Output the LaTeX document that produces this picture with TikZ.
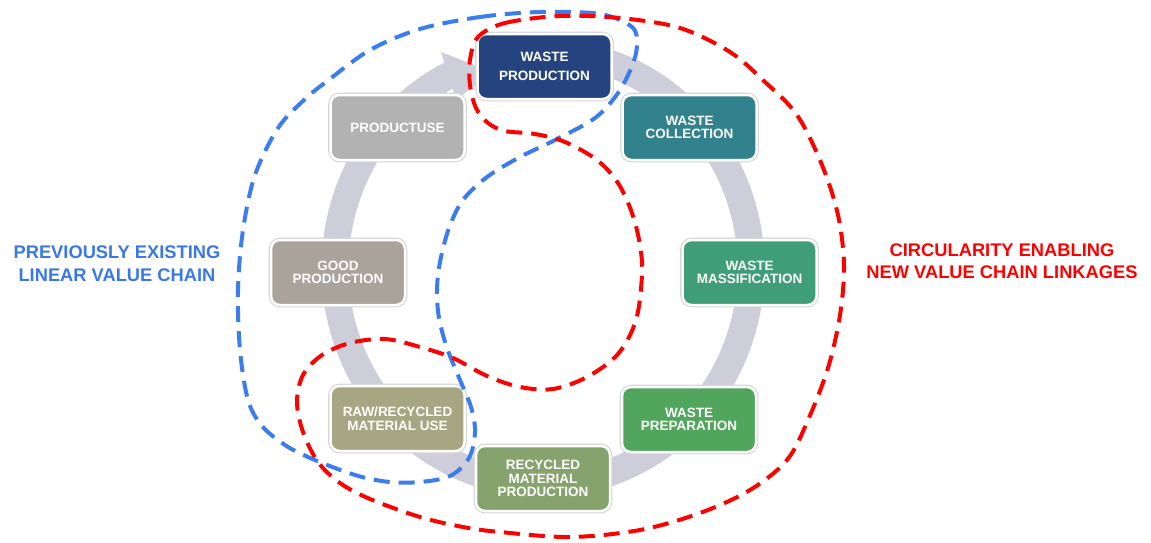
\documentclass[tikz,border=0pt]{standalone}
\usepackage{fontspec}
\setmainfont{Liberation Sans}
\definecolor{ringc}{HTML}{CDCED9}
\definecolor{cwp}{HTML}{24437F}
\definecolor{cwc}{HTML}{32828D}
\definecolor{cwm}{HTML}{3F9E78}
\definecolor{cwprep}{HTML}{51A55C}
\definecolor{crmp}{HTML}{86A36E}
\definecolor{crmu}{HTML}{A6A683}
\definecolor{cgp}{HTML}{AAA39B}
\definecolor{cpu}{HTML}{B2B2B2}
\definecolor{dblue}{HTML}{3B7DEE}
\definecolor{dred}{HTML}{FF0000}
\definecolor{tblue}{HTML}{3A78E6}
\begin{document}
\begin{tikzpicture}[x=1pt,y=-1pt,
  box/.style={rounded corners=9pt, minimum width=134pt, minimum height=65pt, inner sep=0pt,
    text=white, align=center, font=\bfseries\fontsize{13.5}{13.5}\selectfont,
    draw=white, line width=2.5pt, preaction={draw=black!17, line width=4.6pt}},
  ringband/.style={draw=ringc, line width=27pt},
  bluedash/.style={draw=dblue, line width=4pt, dash pattern=on 16pt off 9pt},
  reddash/.style={draw=dred, line width=4pt, dash pattern=on 16pt off 9pt},
  sidelab/.style={font=\bfseries\fontsize{18.3}{22.5}\selectfont, align=center, inner sep=0pt}
]
\useasboundingbox[fill=white] (0,0) rectangle (1151,542);
% ring arrow
\draw[ringband] (543,268) ++(-80:208 and 216) arc[start angle=-80, end angle=244, x radius=208, y radius=216];
\fill[ringc] (441,52) -- (492,72) -- (456,100) -- cycle;
% boxes
\node[box, fill=cwp, font=\bfseries\fontsize{13.5}{18.8}\selectfont] (wp) at (544.5,66.5) {WASTE\\PRODUCTION};
\node[box, fill=cwc] (wc) at (689.5,127.5) {WASTE\\COLLECTION};
\node[box, fill=cpu] (pu) at (397.5,127.5) {PRODUCTUSE};
\node[box, fill=cgp] (gp) at (338,272.5) {GOOD\\PRODUCTION};
\node[box, fill=cwm] (wm) at (749.5,272.5) {WASTE\\MASSIFICATION};
\node[box, fill=crmu] (rmu) at (397.5,418.5) {RAW/RECYCLED\\MATERIAL USE};
\node[box, fill=cwprep] (wpr) at (689,419.5) {WASTE\\PREPARATION};
\node[box, fill=crmp] (rmp) at (543,478.5) {RECYCLED\\MATERIAL\\PRODUCTION};
% side labels
\node[sidelab, text=tblue] (ll) at (117,263.5) {PREVIOUSLY EXISTING\\LINEAR VALUE CHAIN};
\node[sidelab, text=dred] (rl) at (1002,261) {CIRCULARITY ENABLING\\NEW VALUE CHAIN LINKAGES};
% blue dashed loop
\draw[bluedash] plot[smooth cycle, tension=0.55] coordinates {
(420,29) (480,17) (540,12) (600,14) (632,27) (637,45) (632,66) (618,93) (595,118) (555,140)
(520,157) (487,177) (463,200) (449,228) (440,262) (437,290) (439,318) (447,348) (460,380)
(471,407) (475,432) (469,458) (450,476) (420,482) (390,482) (362,477) (335,468) (308,457)
(285,445) (262,426) (248,400) (240,350) (238,290) (243,230) (255,175) (278,128) (304,100)
(326,82) (370,50)};
% red dashed loop
\draw[reddash] plot[smooth cycle, tension=0.55] coordinates {
(478,37) (505,23) (560,16) (620,18) (680,28) (730,52) (765,82) (797,115) (822,165) (838,215)
(844,265) (840,315) (828,368) (808,420) (787,460) (750,490) (700,513) (640,530) (570,537)
(500,532) (463,527) (420,517) (370,499) (340,483) (318,462) (303,432) (297,402) (303,375)
(322,355) (350,343) (385,339) (420,347) (453,358) (487,376) (520,387) (553,389) (587,377)
(618,354) (636,320) (642,275) (640,245) (632,213) (618,183) (597,160) (565,142) (535,134)
(505,131) (488,123) (476,108) (470,85) (470,60)};
\end{tikzpicture}
\end{document}
